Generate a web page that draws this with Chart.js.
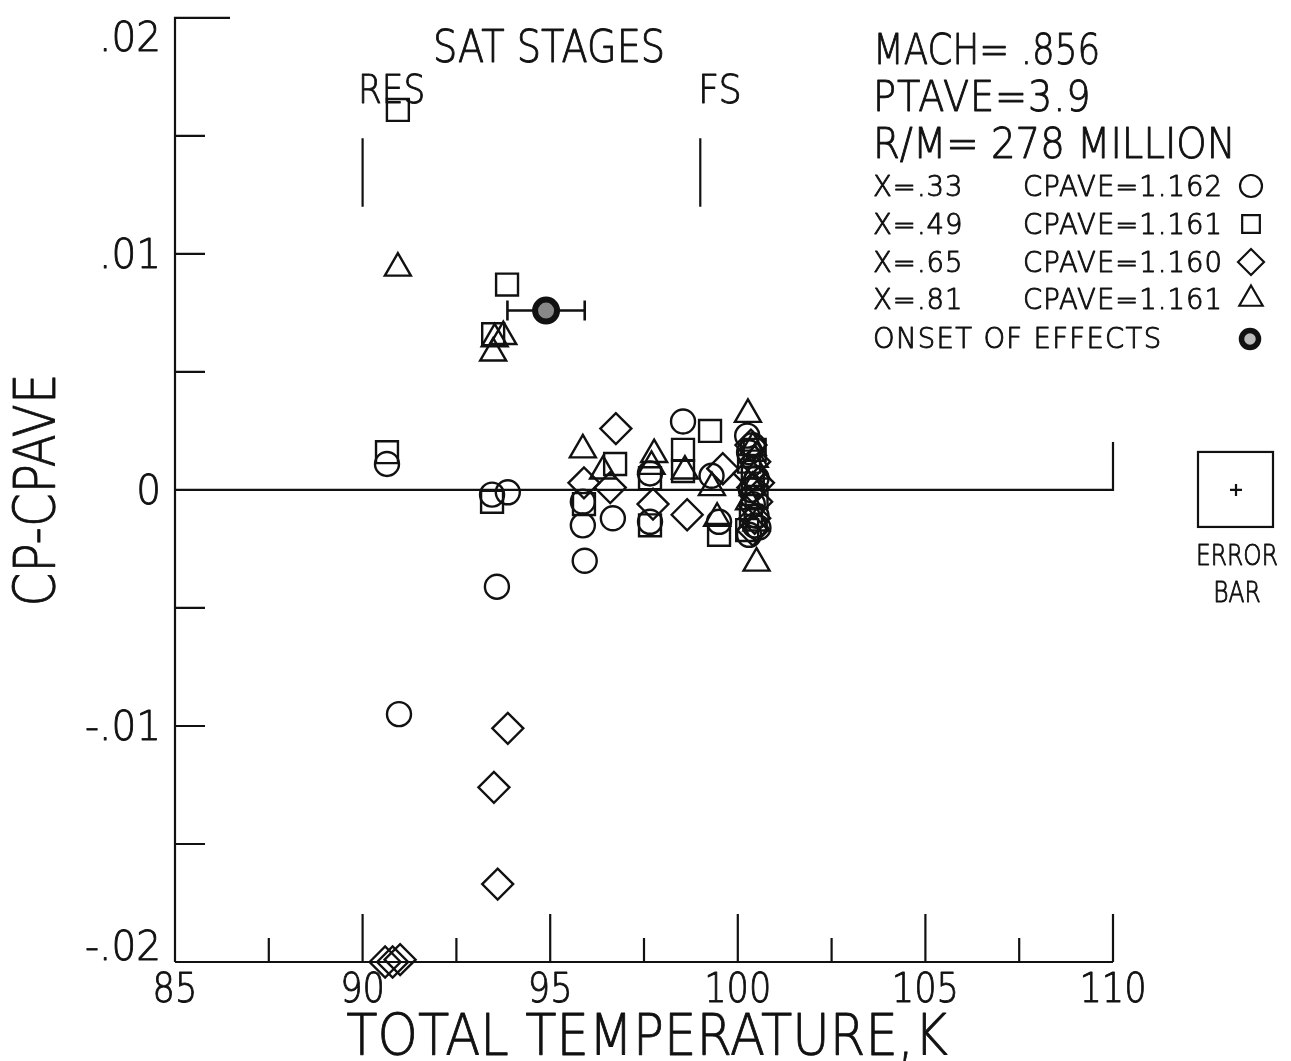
<!DOCTYPE html>
<html>
<head>
<meta charset="utf-8">
<script src="https://cdn.jsdelivr.net/npm/chart.js@4/dist/chart.umd.min.js"></script>
<style>
  html, body { margin: 0; padding: 0; background: #fff; }
  #wrap { width: 1291px; height: 1061px; position: relative; }
</style>
</head>
<body>
<div id="wrap"><canvas id="chart1"></canvas></div>
<script>
const FONT = "'DejaVu Sans', sans-serif";
const INK = '#111';

// X = .33 (circles)
const temp33 = [90.65, 90.97, 93.45, 93.87, 93.58, 95.92, 95.87, 95.87, 96.67, 97.66, 97.66, 98.54, 99.30, 99.50,
                100.25, 100.40, 100.45, 100.50, 100.35, 100.30, 100.50, 100.40, 100.55, 100.30];
const cp33   = [0.0011, -0.0095, -0.0002, -0.0001, -0.0041, -0.0030, -0.0005, -0.0015, -0.0012, 0.0007, -0.00135, 0.0029, 0.0006, -0.00135,
                0.0023, 0.0019, -0.0015, -0.0011, 0.0, 0.0016, 0.0005, -0.0006, -0.0016, -0.0019];
// X = .49 (squares)
const temp49 = [90.94, 90.65, 93.85, 93.48, 93.45, 96.73, 97.66, 97.66, 98.54, 98.54, 99.26, 99.50, 100.25, 100.40, 95.90,
                100.30, 100.50, 100.35, 100.45];
const cp49   = [0.0161, 0.0016, 0.0087, 0.0066, -0.0005, 0.0011, 0.0005, -0.0015, 0.0017, 0.0008, 0.0025, -0.0019, -0.0017, 0.0005, -0.0006,
                0.0012, -0.0003, -0.0011, 0.0017];
// X = .65 (diamonds)
const temp65 = [90.60, 90.80, 91.00, 93.87, 93.50, 93.60, 96.75, 95.90, 96.60, 97.74, 98.65, 99.60, 100.40, 100.50, 100.45,
                100.30, 100.45, 100.55, 100.35, 100.40];
const cp65   = [-0.0200, -0.0200, -0.0199, -0.0101, -0.0126, -0.0167, 0.0026, 0.0003, 0.0001, -0.0006, -0.00105, 0.0009, 0.0001, -0.0005, 0.0012,
                0.0007, -0.0012, 0.0003, 0.0019, -0.0017];
// X = .81 (triangles)
const temp81 = [90.94, 93.48, 93.52, 93.75, 95.87, 96.41, 97.77, 97.70, 98.59, 99.31, 99.45, 100.27, 100.50, 100.40, 100.50,
                100.45, 100.30, 100.50, 100.40];
const cp81   = [0.0094, 0.0058, 0.0064, 0.0065, 0.0017, 0.0008, 0.0015, 0.0010, 0.0008, 0.0001, -0.0012, 0.0032, -0.0031, 0.0018, 0.0008,
                0.0013, -0.0005, -0.0014, 0.0001];
// onset of effects, with its temperature error band
const onsetTemp = [94.89];
const onsetCp = [0.0076];
const onsetErr = [1.03];

const xTickLabels = [85, 90, 95, 100, 105, 110];
const yLabelValues = [0.02, 0.01, 0, -0.01, -0.02];
const yLabelText = ['.02', '.01', '0', '-.01', '-.02'];

const legendRows = [
    { x: 'X=.33', cp: 'CPAVE=1.162', style: 'circle', r: 11 },
    { x: 'X=.49', cp: 'CPAVE=1.161', style: 'rect', r: 12.5 },
    { x: 'X=.65', cp: 'CPAVE=1.160', style: 'rectRot', r: 13 },
    { x: 'X=.81', cp: 'CPAVE=1.161', style: 'triangle', r: 13.5 }
];

function pts(xs, ys) {
    return xs.map((v, i) => ({ x: v, y: ys[i] }));
}

function series(label, xs, ys, style, r) {
    return {
        label: label,
        data: pts(xs, ys),
        pointStyle: style,
        pointRadius: r,
        pointBorderWidth: 2.4,
        pointBorderColor: INK,
        pointBackgroundColor: 'rgba(0,0,0,0)',
        showLine: false,
        clip: false
    };
}

// thin plotter-style lettering, squeezed horizontally by sx
function text(ctx, str, x, y, size, o = {}) {
    ctx.save();
    ctx.font = `200 ${size}px ${FONT}`;
    ctx.letterSpacing = (o.spacing || 0) + 'px';
    ctx.fillStyle = INK;
    ctx.strokeStyle = INK;
    ctx.lineWidth = 0.9;
    ctx.lineJoin = 'round';
    ctx.textBaseline = 'alphabetic';
    ctx.textAlign = o.align || 'left';
    ctx.translate(x, y);
    if (o.rot) ctx.rotate(o.rot);
    ctx.scale(o.sx || 1, 1);
    ctx.fillText(str, 0, 0);
    ctx.strokeText(str, 0, 0);
    ctx.restore();
}

// axes frame, ticks, stage markers, notes and the error-bar key
const plotFrame = {
    id: 'plotFrame',
    beforeDatasetsDraw(chart) {
        const ctx = chart.ctx;
        const xs = chart.scales.x, ys = chart.scales.y;
        const a = chart.chartArea;
        ctx.save();
        ctx.strokeStyle = INK;
        ctx.lineWidth = 2.2;
        ctx.beginPath();
        // left axis and top corner tick
        ctx.moveTo(a.left, a.bottom); ctx.lineTo(a.left, a.top);
        ctx.lineTo(a.left + 55, a.top);
        // bottom axis
        ctx.moveTo(a.left, a.bottom); ctx.lineTo(a.right, a.bottom);
        // zero line with the end tick
        const y0 = ys.getPixelForValue(0);
        ctx.moveTo(a.left, y0); ctx.lineTo(a.right, y0); ctx.lineTo(a.right, y0 - 48);
        ctx.stroke();

        ctx.beginPath();
        ys.ticks.forEach(t => {
            if (Math.abs(t.value) < 1e-9 || Math.abs(Math.abs(t.value) - 0.02) < 1e-9) return;
            const p = ys.getPixelForValue(t.value);
            ctx.moveTo(a.left, p); ctx.lineTo(a.left + 30, p);
        });
        xs.ticks.forEach(t => {
            if (t.value <= 85) return;
            const p = xs.getPixelForValue(t.value);
            const len = (t.value % 5 === 0) ? 48 : 24;
            ctx.moveTo(p, a.bottom); ctx.lineTo(p, a.bottom - len);
        });
        // SAT stage markers
        [90, 99].forEach(v => {
            const p = xs.getPixelForValue(v);
            ctx.moveTo(p, ys.getPixelForValue(0.0149));
            ctx.lineTo(p, ys.getPixelForValue(0.0120));
        });
        ctx.stroke();

        // temperature error bar on the onset point
        ctx.lineWidth = 2.6;
        ctx.beginPath();
        onsetTemp.forEach((t, i) => {
            const l = xs.getPixelForValue(t - onsetErr[i]);
            const r = xs.getPixelForValue(t + onsetErr[i]);
            const p = ys.getPixelForValue(onsetCp[i]);
            ctx.moveTo(l, p); ctx.lineTo(r, p);
            ctx.moveTo(l, p - 10); ctx.lineTo(l, p + 10);
            ctx.moveTo(r, p - 10); ctx.lineTo(r, p + 10);
        });
        ctx.stroke();
        ctx.restore();

        // tick labels from the scale ticks
        xs.ticks.forEach(t => {
            if (!xTickLabels.includes(t.value)) return;
            text(ctx, String(t.value), xs.getPixelForValue(t.value), 1002, 40, { align: 'center', sx: 0.88 });
        });
        ys.ticks.forEach(t => {
            const i = yLabelValues.findIndex(v => Math.abs(v - t.value) < 1e-9);
            if (i < 0) return;
            const p = Math.min(Math.max(ys.getPixelForValue(t.value) + 14, a.top + 33), a.bottom - 2);
            text(ctx, yLabelText[i], a.left - 14, p, 41, { align: 'right', sx: 0.95 });
        });
        // axis titles
        text(ctx, 'TOTAL TEMPERATURE,K', (a.left + a.right) / 2 + 3, 1055, 57.6, { align: 'center', sx: 0.89 });
        text(ctx, 'CP-CPAVE', 55, ys.getPixelForValue(0), 57.6, { align: 'center', sx: 0.84, rot: -Math.PI / 2 });
    },
    afterDatasetsDraw(chart) {
        const ctx = chart.ctx;
        const ys = chart.scales.y;

        text(ctx, 'SAT STAGES', 433, 62, 44, { sx: 0.87 });
        text(ctx, 'RES', 358, 103, 38.5, { sx: 0.89 });
        text(ctx, 'FS', 698, 103, 38.5, { sx: 0.95 });

        text(ctx, 'MACH= .856', 873, 64, 42.5, { sx: 0.84 });
        text(ctx, 'PTAVE=3.9', 873, 111, 42.5, { sx: 0.9, spacing: 1 });
        text(ctx, 'R/M= 278 MILLION', 873, 158, 42.5, { sx: 0.91 });

        const rowBase = [196, 234, 272, 309];
        legendRows.forEach((r, i) => {
            text(ctx, r.x, 873, rowBase[i], 27.5, { spacing: 1 });
            text(ctx, r.cp, 1023, rowBase[i], 27.5, { spacing: 1 });
            ctx.save();
            ctx.fillStyle = 'rgba(0,0,0,0)';
            ctx.strokeStyle = INK;
            ctx.lineWidth = 2.2;
            Chart.helpers.drawPoint(ctx, { pointStyle: r.style, radius: r.r, borderWidth: 2.2 }, 1251, rowBase[i] - 10);
            ctx.restore();
        });
        text(ctx, 'ONSET OF EFFECTS', 873, 348, 27.5, { spacing: 1.3 });
        ctx.save();
        ctx.beginPath();
        ctx.arc(1250, 339, 8.5, 0, Math.PI * 2);
        ctx.lineWidth = 5.5;
        ctx.strokeStyle = INK;
        ctx.fillStyle = '#bbb';
        ctx.fill();
        ctx.stroke();

        // error bar key
        const y0 = ys.getPixelForValue(0);
        ctx.lineWidth = 2.2;
        ctx.strokeRect(1198, y0 - 38, 75, 75);
        ctx.beginPath();
        ctx.moveTo(1230, y0); ctx.lineTo(1242, y0);
        ctx.moveTo(1236, y0 - 6); ctx.lineTo(1236, y0 + 6);
        ctx.stroke();
        ctx.restore();
        text(ctx, 'ERROR', 1237, 565, 27.5, { align: 'center', sx: 0.85 });
        text(ctx, 'BAR', 1237, 602, 27.5, { align: 'center', sx: 0.85 });
    }
};

const chart1Ctx = document.getElementById('chart1').getContext('2d');
const chart1 = new Chart(chart1Ctx, {
    type: 'scatter',
    data: {
        datasets: [
            series('X=.33', temp33, cp33, 'circle', 12),
            series('X=.49', temp49, cp49, 'rect', 15.5),
            series('X=.65', temp65, cp65, 'rectRot', 15.5),
            series('X=.81', temp81, cp81, 'triangle', 15),
            {
                label: 'ONSET OF EFFECTS',
                data: pts(onsetTemp, onsetCp),
                pointStyle: 'circle',
                pointRadius: 11,
                pointBorderWidth: 6,
                pointBorderColor: INK,
                pointBackgroundColor: '#888',
                showLine: false,
                clip: false
            }
        ]
    },
    plugins: [plotFrame],
    options: {
        responsive: true,
        maintainAspectRatio: false,
        animation: false,
        layout: { padding: { top: 11, right: 178, left: 0, bottom: 0 } },
        plugins: {
            legend: { display: false },
            tooltip: { enabled: false }
        },
        scales: {
            x: {
                type: 'linear',
                min: 85,
                max: 110,
                afterFit: s => { s.height = 99; s.paddingLeft = 0; s.paddingRight = 0; },
                grid: { display: false, drawTicks: false },
                border: { display: false },
                ticks: { display: false, stepSize: 2.5, autoSkip: false }
            },
            y: {
                type: 'linear',
                min: -0.02,
                max: 0.02,
                afterFit: s => { s.width = 175; s.paddingTop = 0; s.paddingBottom = 0; },
                grid: { display: false, drawTicks: false },
                border: { display: false },
                ticks: { display: false, stepSize: 0.005, autoSkip: false }
            }
        }
    }
});
</script>
</body>
</html>
